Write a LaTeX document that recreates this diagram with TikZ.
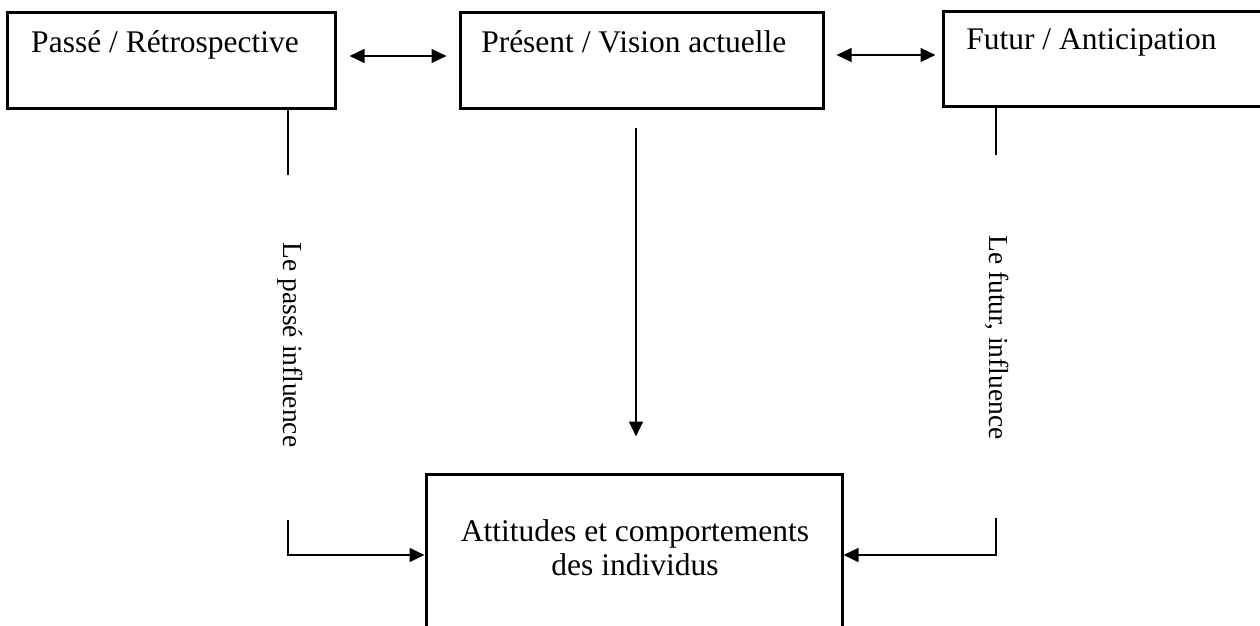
\documentclass[tikz,border=0pt]{standalone}
\usepackage{fontspec}
\setmainfont{Liberation Serif}
\usetikzlibrary{arrows.meta, positioning}

\tikzset{
	box/.style = {draw, line width=1.2pt, inner sep=0pt},
	lbl/.style = {inner sep=0pt, anchor=base west, font=\fontsize{12.6}{15}\selectfont},
	side/.style = {inner sep=0pt, rotate=-90, font=\fontsize{11}{13}\selectfont},
	tip/.style = {-{Triangle[length=6pt, width=5.5pt]}},
	dtip/.style = {{Triangle[length=6pt, width=5.5pt]}-{Triangle[length=6pt, width=5.5pt]}},
}

\begin{document}
\begin{tikzpicture}[x=0.4pt, y=-0.4pt, line width=1pt]
	\def\u{0.4pt}
	\clip (0,0) rectangle (1260,626);
	
	% time boxes
	\node [box, minimum width=328*\u, minimum height=96*\u] (past) at (171,61) {};
	\node [box, minimum width=363*\u, minimum height=96*\u] (present) at (641.5,61) {};
	\node [box, minimum width=332*\u, minimum height=95*\u] (future) at (1109,59.5) {};
	
	\node [lbl] (pasttxt) at (30,53) {Passé / Rétrospective};
	\node [lbl] (presenttxt) at (480,53) {Présent / Vision actuelle};
	\node [lbl] (futuretxt) at (965,50) {Futur / Anticipation};
	
	% outcome box
	\node [box, minimum width=416*\u, minimum height=162*\u] (people) at (634,555) {};
	\node [inner sep=0pt, align=center, font=\fontsize{12.6}{13.6}\selectfont]
		(peopletxt) at (635,548) {Attitudes et comportements\\des individus};
	
	% links between the boxes
	\draw [dtip, line width=0.8pt, shorten <=5.2pt, shorten >=4.8pt]
		([yshift=2pt]past.east) -- ([yshift=2pt]present.west);
	\draw [dtip, line width=0.8pt, shorten <=4.8pt, shorten >=2.4pt]
		([yshift=2.4pt]present.east) -- ([yshift=2.4pt]present.east -| future.west);
	
	\coordinate (nowtop) at (636,128);
	\draw [tip, shorten >=14.4pt] (nowtop) -- (nowtop |- people.north);
	
	% past influence
	\coordinate (pastdrop) at (288,175);
	\coordinate (pastturn) at (288,520);
	\node [side] (pastinf) at (290,345) {Le passé influence};
	\draw (past.south -| pastdrop) -- (pastdrop);
	\draw [tip] (pastturn) |- (people.west);
	
	% future influence
	\coordinate (futdrop) at (996,155);
	\coordinate (futturn) at (996,518);
	\node [side] (futinf) at (997,337.5) {Le futur, influence};
	\draw (future.south -| futdrop) -- (futdrop);
	\draw [tip] (futturn) |- (people.east);
\end{tikzpicture}
\end{document}
